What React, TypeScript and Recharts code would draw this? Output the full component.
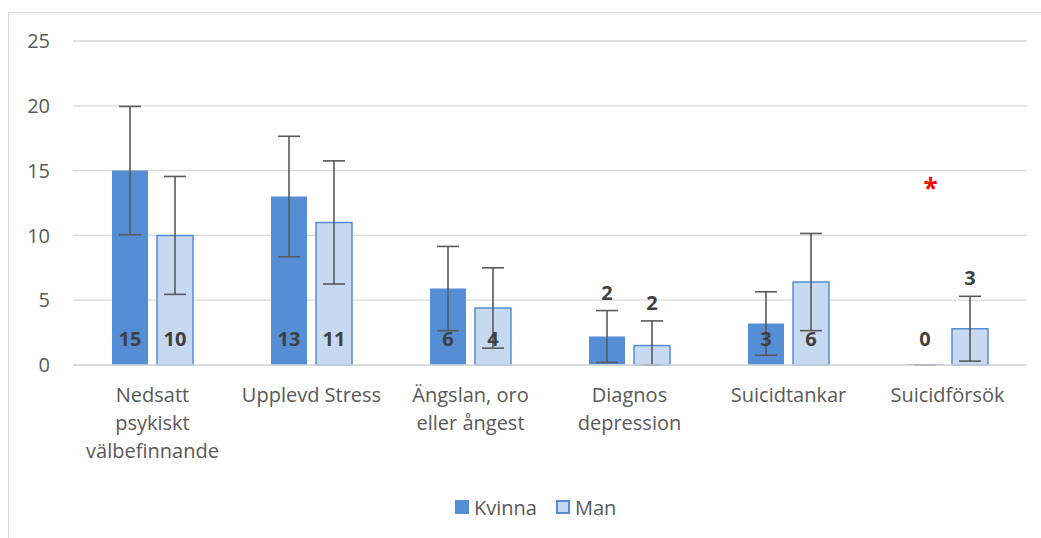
import React from "react";
import {
  BarChart,
  Bar,
  XAxis,
  YAxis,
  CartesianGrid,
  ErrorBar,
  LabelList,
  Legend,
  ReferenceDot,
} from "recharts";

const categories = [
  "Nedsatt\npsykiskt\nvälbefinnande",
  "Upplevd Stress",
  "Ängslan, oro\neller ångest",
  "Diagnos\ndepression",
  "Suicidtankar",
  "Suicidförsök",
];
const kvinna = [15, 13, 5.9, 2.2, 3.2, 0];
const man = [10, 11, 4.4, 1.5, 6.4, 2.8];
// [minus, plus] error per category
const kvinnaErr = [[4.95, 4.95], [4.65, 4.65], [3.25, 3.25], [2.0, 2.0], [2.45, 2.45], [0, 0]];
const manErr = [[4.55, 4.55], [4.75, 4.75], [3.1, 3.1], [1.5, 1.9], [3.75, 3.75], [2.5, 2.5]];
const yTicks = [0, 5, 10, 15, 20, 25];

const FONT = "'Open Sans', sans-serif";
const KVINNA = "#558ED5";
const MAN = "#C6D9F1";
const TEXT = "#595959";
const PPU = 324 / 25; // pixels per unit on the value axis

const data = categories.map((name, i) => ({
  name,
  Kvinna: kvinna[i],
  Man: man[i],
  kErr: kvinnaErr[i],
  mErr: manErr[i],
}));

const CategoryTick = (props: any) => {
  const { x, y, payload } = props;
  const lines = String(payload.value).split("\n");
  return (
    <text x={x} y={y + 37} textAnchor="middle" fill={TEXT} fontSize={20} fontFamily={FONT}>
      {lines.map((l, i) => (
        <tspan key={i} x={x} dy={i === 0 ? 0 : 28}>
          {l}
        </tspan>
      ))}
    </text>
  );
};

const makeLabel = (errs: number[][]) => (props: any) => {
  const { x, y, width, height, value, index } = props;
  const cx = x + width / 2;
  const v = Number(value);
  let ty = y + height - 19;
  if (v > 0 && v < 3) {
    ty = y - errs[index][1] * PPU - 11;
  }
  return (
    <text x={cx} y={ty} textAnchor="middle" fill="#404040" fontSize={20} fontWeight="bold" fontFamily={FONT}>
      {Math.round(v)}
    </text>
  );
};

const LegendContent = (props: any) => {
  const { payload = [] } = props;
  return (
    <div style={{ display: "flex", alignItems: "center", height: 24, fontFamily: FONT, fontSize: 20, color: TEXT }}>
      {payload.map((p: any, i: number) => (
        <div key={i} style={{ display: "flex", alignItems: "center", marginRight: 19 }}>
          <span
            style={{
              display: "inline-block",
              boxSizing: "border-box",
              width: 14,
              height: 14,
              background: p.value === "Man" ? MAN : KVINNA,
              border: p.value === "Man" ? `2px solid ${KVINNA}` : "none",
            }}
          />
          <span style={{ marginLeft: 5 }}>{p.value}</span>
        </div>
      ))}
    </div>
  );
};

export default function App() {
  return (
    <div>
      <style>{"html,body{margin:0;overflow:hidden;background:#fff}"}</style>
      <div
        style={{
          marginLeft: 8,
          marginTop: 12,
          width: 1032,
          height: 525,
          borderLeft: "1px solid #d9d9d9",
          borderTop: "1px solid #d9d9d9",
        }}
      >
        <BarChart
          width={1032}
          height={525}
          data={data}
          margin={{ top: 28, right: 14, left: 0, bottom: 19 }}
          barSize={36}
          barGap={9}
        >
          <CartesianGrid vertical={false} stroke="#d9d9d9" strokeWidth={1.3} />
          <XAxis
            dataKey="name"
            height={130}
            tickSize={0}
            tickMargin={0}
            tickLine={false}
            axisLine={{ stroke: "#d9d9d9", strokeWidth: 1.3 }}
            tick={<CategoryTick />}
            interval={0}
          />
          <YAxis
            width={64}
            domain={[0, 25]}
            ticks={yTicks}
            tickSize={0}
            tickMargin={23}
            tickLine={false}
            axisLine={false}
            tick={{ fill: TEXT, fontSize: 20, fontFamily: FONT }}
          />
          <Legend
            verticalAlign="bottom"
            content={<LegendContent />}
            wrapperStyle={{ left: 446, width: 240, height: 24 }}
          />
          <Bar dataKey="Kvinna" fill={KVINNA} minPointSize={1} isAnimationActive={false}>
            <ErrorBar dataKey="kErr" width={11} stroke="#595959" strokeWidth={1.6} />
            <LabelList dataKey="Kvinna" content={makeLabel(kvinnaErr)} />
          </Bar>
          <Bar dataKey="Man" fill={MAN} stroke={KVINNA} strokeWidth={1.5} isAnimationActive={false}>
            <ErrorBar dataKey="mErr" width={11} stroke="#595959" strokeWidth={1.6} />
            <LabelList dataKey="Man" content={makeLabel(manErr)} />
          </Bar>
          <ReferenceDot
            x={categories[5]}
            y={14}
            r={0}
            fill="none"
            stroke="none"
            label={(p: any) => (
              <text
                x={p.viewBox.x - 17}
                y={p.viewBox.y + 14}
                textAnchor="middle"
                fill="#ff0000"
                fontSize={26}
                fontWeight="bold"
                fontFamily={FONT}
              >
                *
              </text>
            )}
          />
        </BarChart>
      </div>
    </div>
  );
}
